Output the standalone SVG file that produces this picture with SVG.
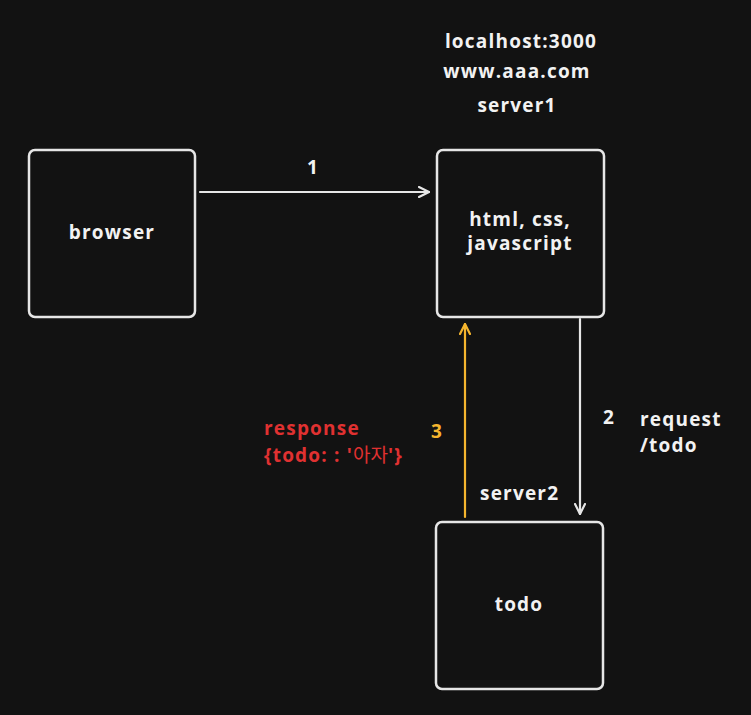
<svg xmlns="http://www.w3.org/2000/svg" width="751" height="715" viewBox="0 0 751 715">
  <style>
    .box { fill: #121212; stroke: #e6e6e6; stroke-width: 2.5; }
    .t { font-family: "Open Sans", "Noto Sans", "Noto Sans CJK KR", sans-serif; font-weight: 700; font-size: 19px; letter-spacing: 1.2px; fill: #f2f2f2; }
    .mid { text-anchor: middle; }
    .red { fill: #e03131; }
    .kr { font-weight: 400; letter-spacing: 0; }
    .yel { fill: #f5b52e; }
    .line { fill: none; stroke-width: 2.2; stroke-linecap: round; stroke-linejoin: round; }
  </style>
  <defs>
    <marker id="headW" viewBox="0 0 12 12" refX="11" refY="6" markerWidth="12" markerHeight="12" markerUnits="userSpaceOnUse" orient="auto">
      <path d="M1 1 L11 6 L1 11" fill="none" stroke="#e6e6e6" stroke-width="2.2" stroke-linecap="round" stroke-linejoin="round"/>
    </marker>
    <marker id="headY" viewBox="0 0 12 12" refX="11" refY="6" markerWidth="12" markerHeight="12" markerUnits="userSpaceOnUse" orient="auto">
      <path d="M1 1 L11 6 L1 11" fill="none" stroke="#f5b52e" stroke-width="2.2" stroke-linecap="round" stroke-linejoin="round"/>
    </marker>
  </defs>
  <rect width="751" height="715" fill="#121212"/>

  <g id="browser">
    <rect class="box" x="29" y="150" width="166" height="167" rx="6"/>
    <text class="t mid" x="112" y="239">browser</text>
  </g>

  <g id="server1">
    <rect class="box" x="437" y="150" width="167" height="167" rx="6"/>
    <text class="t mid" x="520" y="226">html, css,</text>
    <text class="t mid" x="520" y="250">javascript</text>
    <text class="t mid" x="521" y="48">localhost:3000</text>
    <text class="t mid" x="517" y="78">www.aaa.com</text>
    <text class="t mid" x="517" y="112">server1</text>
  </g>

  <g id="server2">
    <rect class="box" x="436" y="522" width="167" height="167" rx="6"/>
    <text class="t mid" x="519" y="611">todo</text>
    <text class="t" x="480" y="500">server2</text>
  </g>

  <g id="connectors">
    <line class="line" x1="200" y1="192" x2="429" y2="192" stroke="#e6e6e6" marker-end="url(#headW)"/>
    <text class="t" x="307" y="174">1</text>
    <line class="line" x1="580" y1="319" x2="580" y2="514" stroke="#e6e6e6" marker-end="url(#headW)"/>
    <text class="t" x="603" y="424">2</text>
    <text class="t" x="640" y="426">request</text>
    <text class="t" x="640" y="452">/todo</text>
    <line class="line" x1="465" y1="517" x2="465" y2="324" stroke="#f5b52e" marker-end="url(#headY)"/>
    <text class="t yel" x="431" y="438">3</text>
    <text class="t red" x="264" y="435">response</text>
    <text class="t red" x="264" y="462">{todo: : '<tspan class="kr">아자</tspan>'}</text>
  </g>
</svg>
